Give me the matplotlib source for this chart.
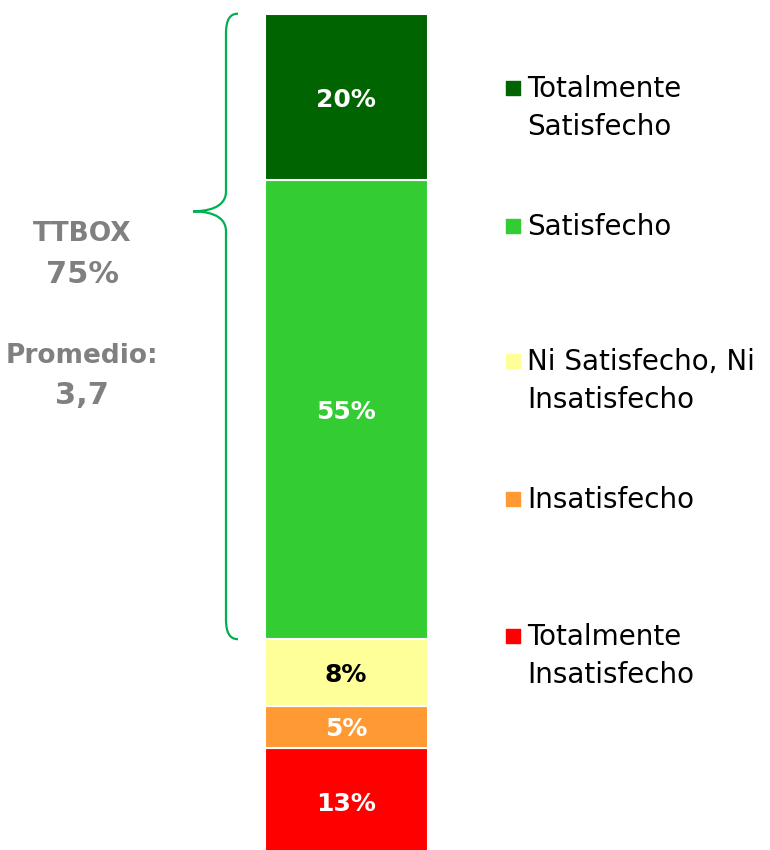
import matplotlib.pyplot as plt
from matplotlib.path import Path
from matplotlib.patches import PathPatch

# satisfaction levels, bottom to top of the stack
categorias = ["Totalmente\nInsatisfecho", "Insatisfecho", "Ni Satisfecho, Ni\nInsatisfecho",
              "Satisfecho", "Totalmente\nSatisfecho"]
valores = [13, 5, 8, 55, 20]
colores = ["#FF0000", "#FF9933", "#FFFF99", "#33CC33", "#006400"]
color_texto = ["white", "white", "black", "white", "white"]
ttbox = "75%"
promedio = "3,7"

fig = plt.figure(figsize=(7.7, 8.5), dpi=100)
ax = fig.add_axes([0, 0, 1, 1])
ax.set_xlim(0, 770)
ax.set_ylim(0.72, 102.64)
ax.axis("off")

# stacked single bar
base = 0
for v, c, tc in zip(valores, colores, color_texto):
    ax.bar(346, v, width=163, bottom=base, color=c, edgecolor="white", linewidth=1.5)
    ax.text(346, base + v / 2, f"{v}%", ha="center", va="center_baseline",
            fontsize=18, fontweight="bold", color=tc)
    base += v

# brace around the top-two box
top = sum(valores)
bot = sum(valores[:3])
tip = 77.3
xv, xe, xt = 226, 238, 193
r = 2.4
verts = [(xe, top), (230, top), (xv, top - 0.7), (xv, top - r),
         (xv, tip + r),
         (xv, tip + 0.3), (205, tip), (xt, tip),
         (205, tip), (xv, tip - 0.3), (xv, tip - r),
         (xv, bot + r),
         (xv, bot + 0.7), (230, bot), (xe, bot)]
codes = [Path.MOVETO, Path.CURVE4, Path.CURVE4, Path.CURVE4,
         Path.LINETO,
         Path.CURVE4, Path.CURVE4, Path.CURVE4,
         Path.CURVE4, Path.CURVE4, Path.CURVE4,
         Path.LINETO,
         Path.CURVE4, Path.CURVE4, Path.CURVE4]
ax.add_patch(PathPatch(Path(verts, codes), fill=False, edgecolor="#00B050", lw=1.6))

gris = "#808080"
ax.text(82, 74.6, "TTBOX", ha="center", va="center", fontsize=19, fontweight="bold", color=gris)
ax.text(82, 69.7, ttbox, ha="center", va="center", fontsize=22, fontweight="bold", color=gris)
ax.text(82, 60.0, "Promedio:", ha="center", va="center", fontsize=19, fontweight="bold", color=gris)
ax.text(82, 55.2, promedio, ha="center", va="center", fontsize=22, fontweight="bold", color=gris)

# legend, top category first
lax = fig.add_axes([0, 0, 1, 1])
lax.set_xlim(0, 770)
lax.set_ylim(850, 0)
lax.axis("off")
filas = [88, 226, 361, 499, 636]
for y, lab, c in zip(filas, categorias[::-1], colores[::-1]):
    lax.scatter(513, y, marker="s", s=90, color=c)
    lax.text(527, y - 13, lab, ha="left", va="top", fontsize=20, linespacing=1.45)

fig.savefig("out.png", dpi=100)
